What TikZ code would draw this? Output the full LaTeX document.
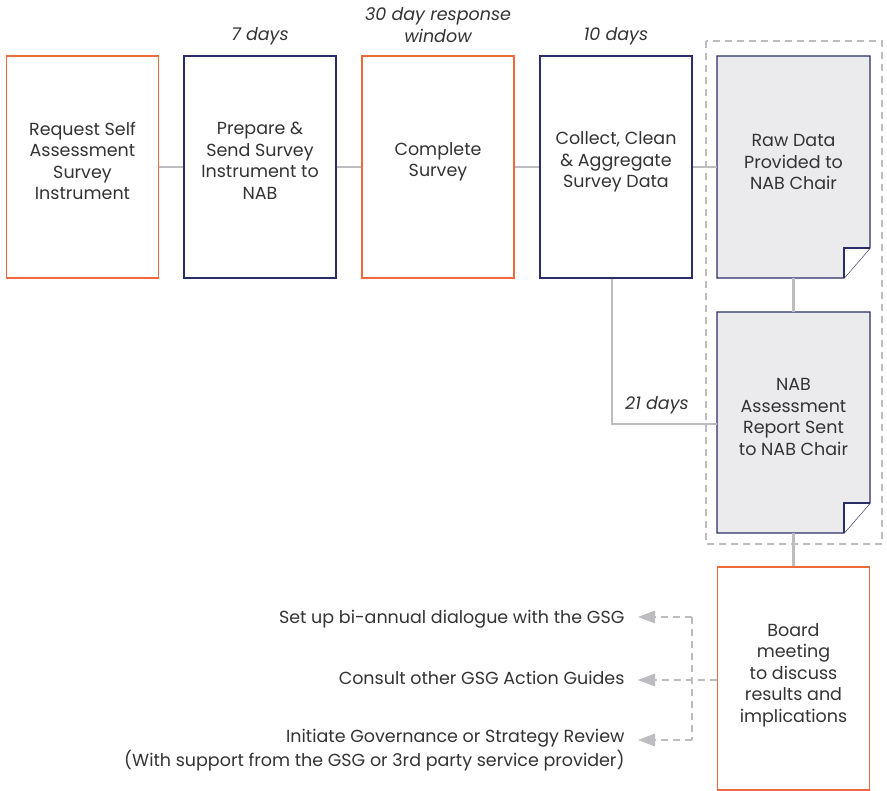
\documentclass[tikz,border=0pt]{standalone}
\usepackage{fontspec}
\setmainfont{Poppins}
\usetikzlibrary{arrows.meta,positioning}
\definecolor{orng}{HTML}{F1683A}
\definecolor{navy}{HTML}{2A2E66}
\definecolor{lgray}{HTML}{BDBDC1}
\definecolor{docfill}{HTML}{EBEBEE}
\definecolor{txt}{HTML}{333333}
\begin{document}
\begin{tikzpicture}[x=1pt,y=-1pt,
  font=\fontsize{17.5}{21.5}\selectfont, text=txt,
  box/.style={draw, line width=1.2pt, minimum width=152pt, minimum height=222pt, inner sep=0pt},
  obox/.style={box, draw=orng},
  nbox/.style={box, draw=navy},
  btxt/.style={align=center, inner sep=0pt},
  conn/.style={draw=lgray, line width=2.4pt},
  dconn/.style={draw=lgray, line width=2.4pt, dash pattern=on 7pt off 5pt},
  lbl/.style={font=\fontsize{17.5}{21.5}\selectfont\itshape, align=center},
  side/.style={font=\fontsize{17.5}{24}\selectfont, align=right, anchor=east}
]
\useasboundingbox (0,0) rectangle (887,791);
% dashed group
\draw[dconn] (706,41) rectangle (882,544);
% boxes
\node[obox] (req) at (82.5,167) {};
\node[btxt] at (82.5,161) {Request Self\\Assessment\\Survey\\Instrument};
\node[nbox] (prep) at (260,167) {};
\node[btxt] at (260,161) {Prepare \&\\Send Survey\\Instrument to\\NAB};
\node[obox] (comp) at (438,167) {};
\node[btxt] at (438,162) {Complete\\Survey};
\node[nbox] (coll) at (616,167) {};
\node[btxt] at (616,162) {Collect, Clean\\\& Aggregate\\Survey Data};
% documents
\fill[docfill] (717,56) -- (870,56) -- (870,248) -- (844,278) -- (717,278) -- cycle;
\draw[navy, line width=1.2pt] (717,56) -- (870,56) -- (870,248) -- (844,278) -- (717,278) -- cycle;
\fill[white] (844,248) -- (870,248) -- (844,278) -- cycle;
\draw[navy, line width=1.2pt] (844,278) -- (844,248) -- (870,248);
\node[minimum width=153pt, minimum height=222pt, inner sep=0pt] (raw) at (793.5,167) {};
\node[btxt] at (793.5,162) {Raw Data\\Provided to\\NAB Chair};
\fill[docfill] (717,312) -- (870,312) -- (870,503) -- (844,533) -- (717,533) -- cycle;
\draw[navy, line width=1.2pt] (717,312) -- (870,312) -- (870,503) -- (844,533) -- (717,533) -- cycle;
\fill[white] (844,503) -- (870,503) -- (844,533) -- cycle;
\draw[navy, line width=1.2pt] (844,533) -- (844,503) -- (870,503);
\node[minimum width=153pt, minimum height=221pt, inner sep=0pt] (nab) at (793.5,422.5) {};
\node[btxt] at (793.5,417) {NAB\\Assessment\\Report Sent\\to NAB Chair};
% board
\node[obox, minimum height=223pt] (board) at (793.5,678.5) {};
\node[btxt] at (793.5,675) {Board\\meeting\\to discuss\\results and\\implications};
% connectors
\draw[conn] (req.east) -- (prep.west);
\draw[conn] (prep.east) -- (comp.west);
\draw[conn] (comp.east) -- (coll.west);
\draw[conn] (coll.east) -- (raw.west);
\draw[conn] (raw.south) -- (nab.north);
\draw[conn] (nab.south) -- (board.north);
\draw[conn] (coll.south -| 612,0) |- (nab.west |- 0,424);
% labels
\node[lbl] at (260,36) {7 days};
\node[lbl] at (438,25) {30 day response\\window};
\node[lbl] at (616,36) {10 days};
\node[lbl] at (657,405) {21 days};
% side texts
\node[side] (t1) at (628,619) {Set up bi-annual dialogue with the GSG};
\node[side] (t2) at (628,678) {Consult other GSG Action Guides};
\node[side] (t3) at (628,750) {Initiate Governance or Strategy Review\\(With support from the GSG or 3rd party service provider)};
\coordinate (j1) at (692,617);
\coordinate (j3) at (692,740);
\draw[dconn] (board.west |- 0,680) -- (652,680);
\draw[dconn] (j1) -- (j3);
\draw[dconn] (j1) -- (652,617);
\draw[dconn] (j3) -- (652,740);
\fill[lgray] (638,617) -- (655,610.5) -- (655,623.5) -- cycle;
\fill[lgray] (638,680) -- (655,673.5) -- (655,686.5) -- cycle;
\fill[lgray] (638,740) -- (655,733.5) -- (655,746.5) -- cycle;
\end{tikzpicture}
\end{document}
